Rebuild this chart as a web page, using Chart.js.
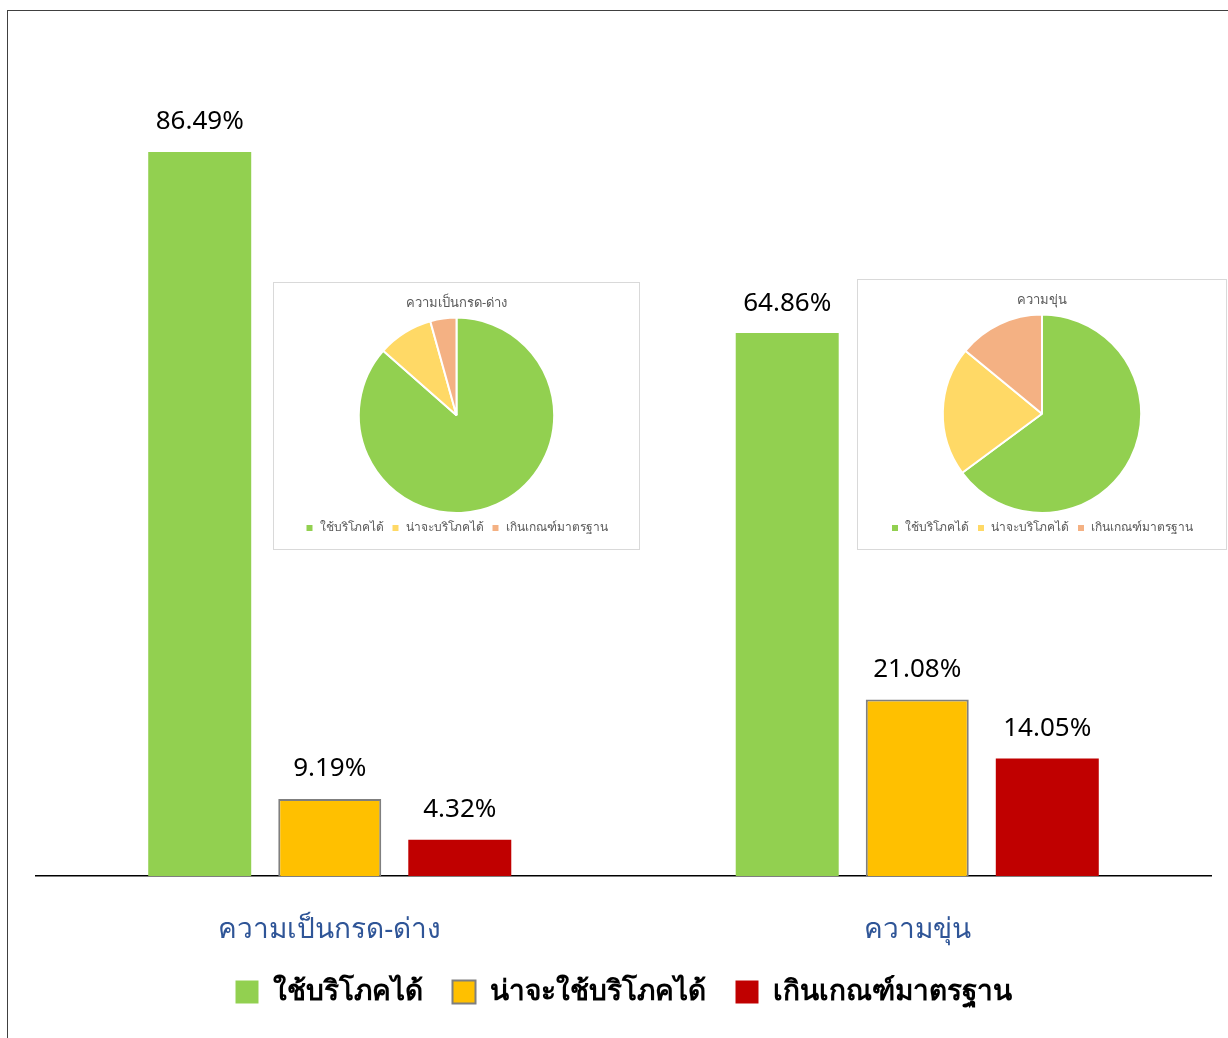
<!DOCTYPE html>
<html>
<head>
<meta charset="utf-8">
<script src="https://cdn.jsdelivr.net/npm/chart.js@4.4.0/dist/chart.umd.min.js"></script>
<style>
  html, body { margin: 0; padding: 0; background: #fff; overflow: hidden; }
  #wrap { position: relative; width: 1228px; height: 1038px; }
  #frame { position: absolute; left: 7px; top: 10px; width: 1300px; height: 1100px;
           border-left: 1px solid #404040; border-top: 1px solid #404040; }
  #main { position: absolute; left: 0; top: 0; }
  .inset { position: absolute; background: #fff; border: 1px solid #d9d9d9; }
  #box1 { left: 273px; top: 282px; width: 365px; height: 266px; }
  #box2 { left: 857px; top: 279px; width: 368px; height: 269px; }
</style>
</head>
<body>
<div id="wrap">
  <div id="frame"></div>
  <canvas id="main" width="1228" height="1038"></canvas>
  <div class="inset" id="box1"><canvas id="pie1"></canvas></div>
  <div class="inset" id="box2"><canvas id="pie2"></canvas></div>
</div>
<script>
var font = "'Noto Sans', 'DejaVu Sans', sans-serif";

var categories = ["ความเป็นกรด-ด่าง", "ความขุ่น"];
var seriesNames = ["ใช้บริโภคได้", "น่าจะใช้บริโภคได้", "เกินเกณฑ์มาตรฐาน"];
var drinkable = [86.49, 64.86];
var maybe = [9.19, 21.08];
var over = [4.32, 14.05];

var pieLabels = ["ใช้บริโภคได้", "น่าจะบริโภคได้", "เกินเกณฑ์มาตรฐาน"];
var pieTitles = ["ความเป็นกรด-ด่าง", "ความขุ่น"];
var pieColors = ["#92D050", "#FFD966", "#F4B183"];

// value labels above bars
var barLabels = {
    id: "barLabels",
    afterDatasetsDraw: function (chart) {
        var ctx = chart.ctx;
        ctx.save();
        ctx.font = "26px " + font;
        ctx.fillStyle = "#000";
        ctx.textAlign = "center";
        ctx.textBaseline = "middle";
        chart.data.datasets.forEach(function (ds, i) {
            chart.getDatasetMeta(i).data.forEach(function (bar, j) {
                ctx.fillText(ds.data[j].toFixed(2) + "%", bar.x, bar.y - 30);
            });
        });
        ctx.restore();
    }
};

var main = new Chart(document.getElementById("main").getContext("2d"), {
    type: "bar",
    data: {
        labels: categories,
        datasets: [
            { label: seriesNames[0], data: drinkable, backgroundColor: "#92D050", borderColor: "#92D050", borderWidth: 0 },
            { label: seriesNames[1], data: maybe, backgroundColor: "#FFC000", borderColor: "#7F7F7F", borderWidth: 2 },
            { label: seriesNames[2], data: over, backgroundColor: "#C00000", borderColor: "#C00000", borderWidth: 0 }
        ]
    },
    options: {
        responsive: false,
        animation: false,
        categoryPercentage: 0.664,
        barPercentage: 0.792,
        layout: { padding: { left: 36, right: 17, top: 39, bottom: 22 } },
        scales: {
            y: { display: false, min: 0, max: 100 },
            x: {
                grid: { display: false },
                border: { display: true, color: "#000", width: 1.5 },
                ticks: { color: "#2F5597", padding: 29, font: { family: font, size: 28 } },
                afterFit: function (scale) { scale.height = 72; }
            }
        },
        plugins: {
            legend: {
                position: "bottom",
                labels: {
                    color: "#000",
                    boxWidth: 23,
                    boxHeight: 23,
                    padding: 30,
                    font: { family: font, size: 28, weight: "bold" }
                }
            },
            tooltip: { enabled: false }
        }
    },
    plugins: [barLabels]
});

var makePie = function (id, title, values, w, h) {
    var canvas = document.getElementById(id);
    canvas.width = w;
    canvas.height = h;
    return new Chart(canvas.getContext("2d"), {
        type: "pie",
        data: {
            labels: pieLabels,
            datasets: [{ data: values, backgroundColor: pieColors, borderColor: "#fff", borderWidth: 2 }]
        },
        options: {
            responsive: false,
            animation: false,
            layout: { padding: { bottom: 5 } },
            plugins: {
                title: {
                    display: true,
                    text: title,
                    color: "#595959",
                    padding: { top: 12, bottom: 6 },
                    font: { family: font, size: 13, weight: "normal" }
                },
                legend: {
                    position: "bottom",
                    labels: {
                        color: "#595959",
                        boxWidth: 8,
                        boxHeight: 8,
                        padding: 8,
                        font: { family: font, size: 12 }
                    }
                },
                tooltip: { enabled: false }
            }
        }
    });
};

makePie("pie1", pieTitles[0], [drinkable[0], maybe[0], over[0]], 365, 266);
makePie("pie2", pieTitles[1], [drinkable[1], maybe[1], over[1]], 368, 269);
</script>
</body>
</html>
